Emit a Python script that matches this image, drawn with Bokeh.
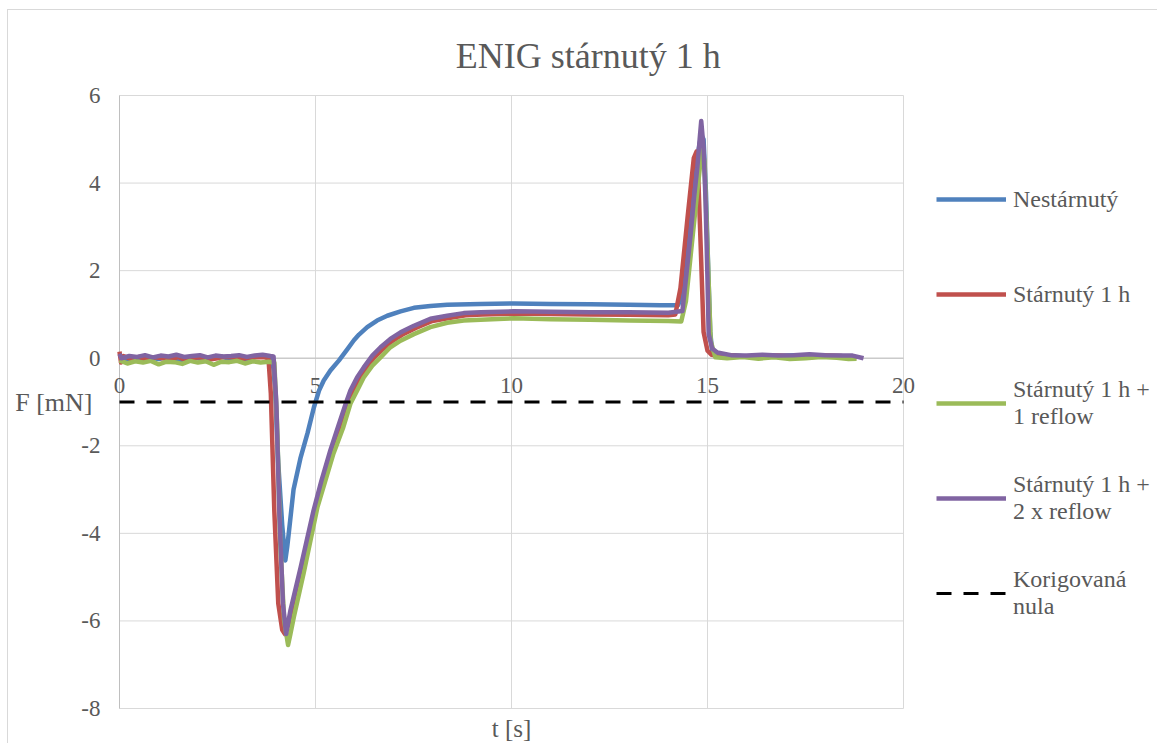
from bokeh.plotting import figure
from bokeh.models import Range1d, Label, Legend, LegendItem
from bokeh.core.properties import value
from bokeh.embed import file_html
from bokeh.resources import INLINE

# ---------------- data ----------------
x_ticks = [0, 5, 10, 15, 20]
x_tick_labels = ["0", "5", "10", "15", "20"]
y_ticks = [-8, -6, -4, -2, 0, 2, 4, 6]
y_tick_labels = ["-8", "-6", "-4", "-2", "0", "2", "4", "6"]

blue_t = [0, 0.2, 0.4, 0.6, 0.8, 1.0, 1.2, 1.4, 1.6, 1.8, 2.0, 2.2, 2.4, 2.6, 2.8, 3.0, 3.2, 3.4,
          3.6, 3.8, 3.9, 3.97, 4.05, 4.15, 4.23, 4.28, 4.33, 4.44, 4.62, 4.8, 4.96, 5.09, 5.21,
          5.38, 5.6, 5.81, 5.98, 6.11, 6.32, 6.57, 6.83, 7.17, 7.51, 7.93, 8.36, 9.21, 10.06,
          11.0, 12.0, 13.0, 13.8, 14.25, 14.38, 14.5, 14.62, 14.74, 14.84, 14.9, 14.96, 15.02,
          15.07, 15.12, 15.2, 15.4, 15.7, 16.0, 16.4, 16.8, 17.2, 17.6, 18.0, 18.4, 18.7]
blue_f = [0.0, -0.03, 0.02, -0.04, 0.01, -0.02, 0.03, -0.01, -0.05, 0.02, 0.0, -0.03, 0.02,
          0.04, -0.02, 0.03, -0.04, 0.01, 0.06, 0.04, 0.02, -0.7, -2.4, -3.8, -4.62, -4.3, -3.9,
          -3.0, -2.27, -1.7, -1.12, -0.74, -0.51, -0.28, -0.05, 0.2, 0.41, 0.54, 0.71, 0.86,
          0.97, 1.07, 1.15, 1.19, 1.22, 1.24, 1.25, 1.24, 1.23, 1.22, 1.21, 1.21, 1.5, 2.6, 3.7,
          4.6, 5.1, 5.0, 3.8, 2.0, 0.6, 0.15, 0.07, 0.05, 0.07, 0.04, 0.06, 0.05, 0.07, 0.05,
          0.06, 0.05, 0.02]

red_t = [0, 0.04, 0.1, 0.3, 0.5, 0.7, 0.9, 1.1, 1.3, 1.5, 1.7, 1.9, 2.1, 2.3, 2.5, 2.7, 2.9, 3.1,
         3.3, 3.5, 3.7, 3.8, 3.86, 3.95, 4.05, 4.15, 4.22, 4.3, 4.44, 4.7, 5.05, 5.4, 5.63,
         5.82, 5.94, 6.11, 6.28, 6.5, 6.71, 6.96, 7.22, 7.56, 7.98, 8.41, 8.83, 9.26, 10.1,
         11.0, 12.0, 13.0, 14.0, 14.18, 14.31, 14.49, 14.65, 14.72, 14.77, 14.84, 14.9, 15.0,
         15.1, 15.3, 15.6, 16.0, 16.4, 16.8, 17.2, 17.6, 18.0, 18.4, 18.8]
red_f = [0.15, -0.1, 0.05, -0.02, 0.03, -0.04, 0.02, 0.0, -0.03, 0.03, -0.05, 0.01, 0.02, -0.03,
         0.0, 0.03, 0.02, -0.02, 0.01, 0.03, 0.02, 0.0, -0.8, -3.5, -5.6, -6.2, -6.3, -6.1,
         -5.76, -4.78, -3.3, -2.1, -1.55, -1.04, -0.76, -0.47, -0.25, 0.02, 0.2, 0.39, 0.54,
         0.69, 0.85, 0.92, 0.98, 1.0, 1.02, 1.01, 1.0, 0.99, 0.98, 1.0, 1.6, 3.2, 4.57, 4.72,
         4.0, 2.2, 0.6, 0.17, 0.08, 0.05, 0.06, 0.04, 0.05, 0.06, 0.04, 0.07, 0.06, 0.05, 0.0]

green_t = [0, 0.2, 0.4, 0.6, 0.8, 1.0, 1.2, 1.4, 1.6, 1.8, 2.0, 2.2, 2.4, 2.6, 2.8, 3.0, 3.2,
           3.4, 3.6, 3.8, 3.95, 4.02, 4.1, 4.2, 4.3, 4.36, 4.45, 4.7, 5.05, 5.45, 5.7, 5.89,
           6.06, 6.23, 6.45, 6.66, 6.91, 7.17, 7.51, 7.93, 8.36, 8.78, 9.21, 10.06, 11.0, 12.0,
           13.0, 14.0, 14.33, 14.45, 14.6, 14.75, 14.86, 14.92, 15.0, 15.08, 15.2, 15.5, 15.9,
           16.3, 16.7, 17.1, 17.5, 17.9, 18.3, 18.6, 18.8]
green_f = [-0.05, -0.12, -0.07, -0.1, -0.06, -0.14, -0.08, -0.09, -0.13, -0.06, -0.1, -0.07,
           -0.15, -0.08, -0.09, -0.06, -0.12, -0.07, -0.1, -0.08, -0.1, -1.5, -4.2, -6.0, -6.55,
           -6.3, -5.9, -4.9, -3.4, -2.2, -1.6, -1.04, -0.74, -0.44, -0.17, 0.02, 0.25, 0.4,
           0.55, 0.71, 0.81, 0.86, 0.88, 0.91, 0.89, 0.88, 0.86, 0.85, 0.84, 1.3, 2.6, 3.9, 4.8,
           4.5, 2.5, 0.4, 0.02, 0.0, 0.03, -0.01, 0.02, -0.02, 0.0, 0.03, 0.01, -0.02, -0.01]

purple_t = [0, 0.05, 0.25, 0.45, 0.65, 0.85, 1.05, 1.25, 1.45, 1.65, 1.85, 2.05, 2.25, 2.45,
            2.65, 2.85, 3.05, 3.25, 3.45, 3.65, 3.85, 3.93, 4.0, 4.08, 4.17, 4.25, 4.36, 4.62,
            4.95, 5.15, 5.38, 5.58, 5.77, 5.89, 6.06, 6.23, 6.45, 6.66, 6.91, 7.17, 7.51, 7.93,
            8.36, 8.78, 9.21, 10.06, 11.0, 12.0, 13.0, 14.0, 14.36, 14.46, 14.57, 14.66, 14.74,
            14.8, 14.84, 14.9, 14.95, 15.0, 15.03, 15.12, 15.25, 15.6, 16.0, 16.4, 16.8, 17.2,
            17.6, 18.0, 18.4, 18.7, 18.98]
purple_f = [0.1, 0.0, 0.05, 0.03, 0.07, 0.02, 0.06, 0.04, 0.08, 0.03, 0.05, 0.07, 0.02, 0.06,
            0.04, 0.05, 0.07, 0.03, 0.06, 0.08, 0.05, 0.04, -1.0, -3.6, -5.6, -6.3, -5.76, -4.78,
            -3.48, -2.8, -2.1, -1.55, -1.04, -0.74, -0.44, -0.21, 0.06, 0.25, 0.44, 0.59, 0.74,
            0.9, 0.97, 1.03, 1.05, 1.07, 1.06, 1.05, 1.05, 1.04, 1.08, 1.9, 2.83, 3.7, 4.35, 5.0,
            5.42, 4.8, 3.6, 1.8, 0.55, 0.22, 0.13, 0.07, 0.06, 0.08, 0.06, 0.07, 0.09, 0.07,
            0.06, 0.06, 0.0]

zero_t = [0, 20]
zero_f = [-1, -1]

series_names = ["Nestárnutý", "Stárnutý 1 h", "Stárnutý 1 h +\n1 reflow",
                "Stárnutý 1 h +\n2 x reflow", "Korigovaná\nnula"]
series_colors = ["#4f81bd", "#c0504d", "#9bbb59", "#8064a2", "#000000"]

title_text = "ENIG stárnutý 1 h"
x_title = "t [s]"
y_title = "F [mN]"

# ---------------- layout constants (page pixels) ----------------
FONT = "Liberation Serif"
GREY = "#595959"
W, H = 1150, 734            # canvas size (page offset 8, 10)
OX, OY = 8, 10              # canvas origin on page
PL, PR, PT, PB = 119, 903, 95, 708   # plot area on page
sx = (PR - PL) / (x_ticks[-1] - x_ticks[0])
sy = (PB - PT) / (y_ticks[-1] - y_ticks[0])
x0 = x_ticks[0] - (PL - OX) / sx
x1 = x_ticks[-1] + (OX + W - PR) / sx
y1 = y_ticks[-1] + (PT - OY) / sy
y0 = y_ticks[0] - (OY + H - PB) / sy

p = figure(width=W, height=H, x_range=Range1d(x0, x1), y_range=Range1d(y0, y1),
           output_backend="svg", toolbar_location=None, x_axis_type=None, y_axis_type=None,
           min_border=0)
p.styles = {"margin-left": "7px", "margin-top": "9px",
            "border-left": "1px solid #d9d9d9", "border-top": "1px solid #d9d9d9"}
p.outline_line_color = None
p.grid.visible = False

# grid lines bounded to the plot area, from the tick lists
nx, ny = len(x_ticks), len(y_ticks)
p.segment(x0=x_ticks, y0=[y_ticks[0]] * nx, x1=x_ticks, y1=[y_ticks[-1]] * nx,
          line_color="#d9d9d9", line_width=1)
p.segment(x0=[x_ticks[0]] * ny, y0=y_ticks, x1=[x_ticks[-1]] * ny, y1=y_ticks,
          line_color="#d9d9d9", line_width=1)
# axis lines (x = 0 and y = 0)
p.segment(x0=[0, x_ticks[0]], y0=[y_ticks[0], 0], x1=[0, x_ticks[-1]], y1=[y_ticks[-1], 0],
          line_color="#bfbfbf", line_width=1)

# tick labels
p.text(x=x_ticks, y=[0] * nx, text=x_tick_labels, text_align="center",
       text_baseline="top", y_offset=20, text_font=value(FONT), text_font_size="23px",
       text_color=GREY)
p.text(x=[0] * ny, y=y_ticks, text=y_tick_labels, text_align="right",
       text_baseline="middle", x_offset=-19, text_font=value(FONT), text_font_size="23px",
       text_color=GREY)

renderers = []
for t, f, c in [(blue_t, blue_f, series_colors[0]), (red_t, red_f, series_colors[1]),
                (green_t, green_f, series_colors[2]), (purple_t, purple_f, series_colors[3])]:
    r = p.line(t, f, line_color=c, line_width=4.5, line_join="round")
    renderers.append(r)
rz = p.line(zero_t, zero_f, line_color=series_colors[4], line_width=3, line_dash="15 12")
renderers.append(rz)

# legends, one per entry (glyph centre page y)
legend_glyph_y = [199, 294, 389, 484, 579]
for name, r, gy in zip(series_names, renderers, legend_glyph_y):
    nlines = name.count("\n") + 1
    h = 30 if nlines == 1 else 56
    top = gy - 15 - OY
    lg = Legend(items=[LegendItem(label=name, renderers=[r])],
                location=(936 - OX, H - top - h), orientation="vertical",
                glyph_width=70, glyph_height=30, label_height=30, label_standoff=7,
                padding=0, margin=0, spacing=0,
                border_line_color=None, background_fill_alpha=0,
                label_text_font=FONT, label_text_font_size="24px",
                label_text_color=GREY)
    p.add_layout(lg, "center")

p.add_layout(Label(x=(x_ticks[0] + x_ticks[-1]) / 2 + 1.96, y=y_ticks[-1] + 0.91,
                   text=title_text, text_align="center", text_baseline="middle",
                   text_font=FONT, text_font_size="36px", text_color=GREY))
p.add_layout(Label(x=x_ticks[0] - 0.69, y=-1.0, text=y_title, text_align="right",
                   text_baseline="middle", text_font=FONT, text_font_size="26px",
                   text_color=GREY))
p.add_layout(Label(x=(x_ticks[0] + x_ticks[-1]) / 2, y=y_ticks[0] - 0.45, text=x_title,
                   text_align="center", text_baseline="middle", text_font=FONT,
                   text_font_size="25px", text_color=GREY))

open("out.html", "w").write(file_html(p, INLINE))
